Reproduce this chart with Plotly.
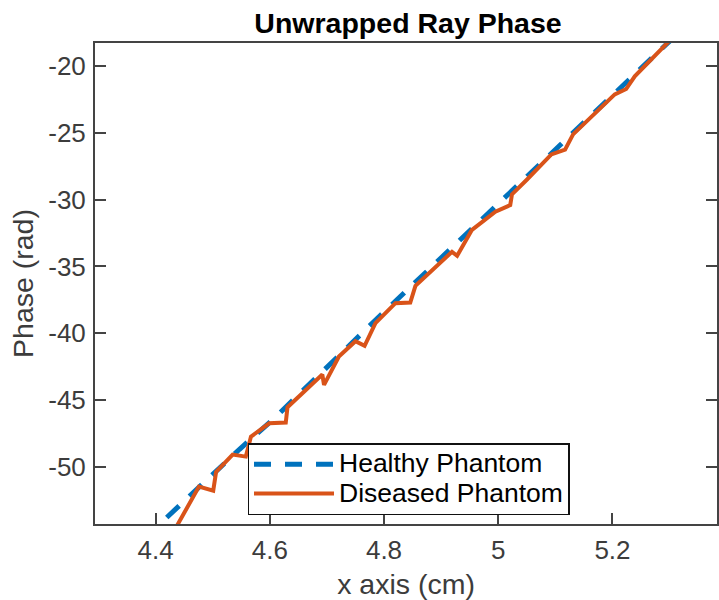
import plotly.graph_objects as go

# Healthy phantom (straight dashed line)
healthy_x = [4.38, 4.407, 4.547, 4.611, 4.788, 5.000, 5.150, 5.297, 5.33]
healthy_y = [-55.4, -54.30, -48.70, -46.25, -38.90, -30.30, -24.20, -18.25, -16.9]

# Diseased phantom (solid line with sawtooth jumps)
diseased_x = [4.430, 4.439, 4.476, 4.501, 4.506, 4.535, 4.558, 4.562, 4.567, 4.599, 4.628,
              4.631, 4.692, 4.695, 4.721, 4.750, 4.766, 4.785, 4.820, 4.846, 4.855,
              4.919, 4.928, 4.954, 4.995, 5.021, 5.024, 5.050, 5.093, 5.117, 5.131,
              5.204, 5.224, 5.239, 5.297, 5.32]
diseased_y = [-55.0, -54.30, -51.50, -51.80, -50.40, -49.10, -49.25, -48.60, -47.75, -46.75, -46.70,
              -45.55, -43.10, -43.87, -41.75, -40.60, -40.95, -39.25, -37.75, -37.70, -36.45,
              -33.90, -34.20, -32.25, -30.90, -30.40, -29.60, -28.50, -26.60, -26.25, -25.10,
              -22.10, -21.70, -20.75, -18.25, -17.2]

series_names = ["Healthy Phantom", "Diseased Phantom"]

x_ticks = [4.4, 4.6, 4.8, 5.0, 5.2]
x_tick_labels = ["4.4", "4.6", "4.8", "5", "5.2"]
y_ticks = [-50, -45, -40, -35, -30, -25, -20]
y_tick_labels = ["-50", "-45", "-40", "-35", "-30", "-25", "-20"]

FONT = "Liberation Sans, Arial, Helvetica, sans-serif"
AX = "#444444"
TXT = "#3c3c3c"
LEG_TEXT = '<span style="font-size:26.5px">{}</span>'

fig = go.Figure()
fig.add_trace(go.Scatter(
    x=healthy_x, y=healthy_y, mode="lines", name=LEG_TEXT.format(series_names[0]),
    line=dict(color="#0072BD", width=5, dash="17px,14px"),
))
fig.add_trace(go.Scatter(
    x=diseased_x, y=diseased_y, mode="lines", name=LEG_TEXT.format(series_names[1]),
    line=dict(color="#D95319", width=4),
))

fig.update_layout(
    width=719, height=600,
    margin=dict(l=95, r=0, t=43, b=76),
    paper_bgcolor="white", plot_bgcolor="white",
    font=dict(family=FONT, size=25, color=TXT),
    title=dict(text="<b>Unwrapped Ray Phase</b>", x=408 / 719, xref="container",
               xanchor="center", y=1 - 23 / 600, yref="container", yanchor="middle",
               font=dict(family=FONT, size=28.5, color="black")),
    showlegend=True,
    legend=dict(x=(248 - 95) / 624, y=(524 - 443) / 481, xanchor="left", yanchor="top",
                bgcolor="white", bordercolor="#111111", borderwidth=1.5,
                font=dict(family=FONT, size=20.3, color="black"),
                itemwidth=80, tracegroupgap=0),
)
fig.update_xaxes(
    range=[4.294, 5.383], tickmode="array", tickvals=x_ticks, ticktext=x_tick_labels,
    ticks="inside", ticklen=11, tickwidth=2, tickcolor=AX,
    showline=True, linewidth=2, linecolor=AX, mirror=True,
    showgrid=False, zeroline=False, ticklabelstandoff=2,
    tickfont=dict(family=FONT, size=26, color=TXT),
    title=dict(text="x axis (cm)", standoff=11, font=dict(family=FONT, size=28.5, color=TXT)),
)
fig.update_yaxes(
    range=[-54.3, -18.25], tickmode="array", tickvals=y_ticks, ticktext=y_tick_labels,
    ticks="inside", ticklen=11, tickwidth=2, tickcolor=AX,
    showline=True, linewidth=2, linecolor=AX, mirror="ticks",
    showgrid=False, zeroline=False, ticklabelstandoff=2,
    tickfont=dict(family=FONT, size=26, color=TXT),
    title=dict(text="Phase (rad)", standoff=6, font=dict(family=FONT, size=28.5, color=TXT)),
)

fig.write_html("out.html")
